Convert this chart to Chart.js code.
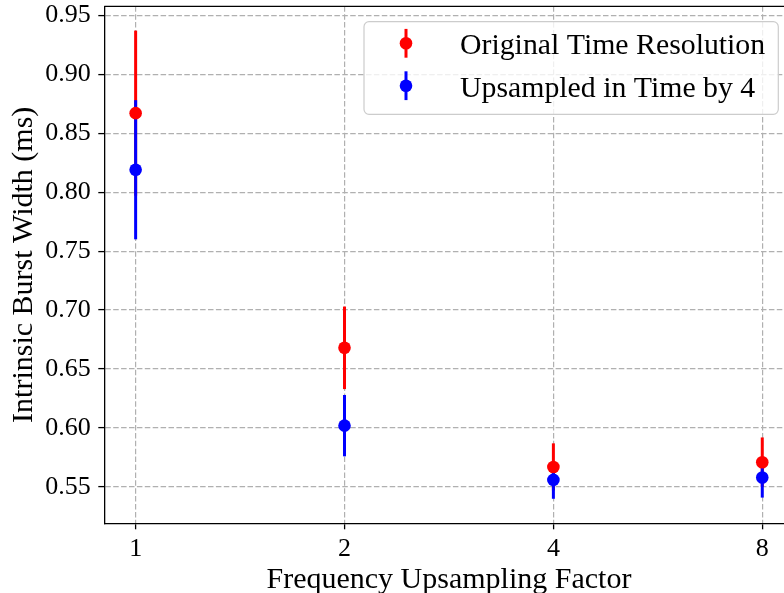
<!DOCTYPE html>
<html>
<head>
<meta charset="utf-8">
<script src="https://cdn.jsdelivr.net/npm/chart.js@4.4.1/dist/chart.umd.min.js"></script>
<style>
  html, body { margin: 0; padding: 0; background: #ffffff; overflow: hidden; }
  #wrap { width: 800px; height: 593px; }
</style>
</head>
<body>
<div id="wrap"><canvas id="c" width="800" height="593"></canvas></div>
<script>
// ---- data ----
const factors = [1, 2, 4, 8];
const factorPos = [0, 1, 2, 3]; // log2 positions of factors
const origWidth = [0.867, 0.668, 0.567, 0.571];
const origErr   = [0.070, 0.035, 0.020, 0.021];
const upWidth   = [0.819, 0.602, 0.556, 0.558];
const upErr     = [0.059, 0.026, 0.016, 0.017];
const yTicks = [0.55, 0.60, 0.65, 0.70, 0.75, 0.80, 0.85, 0.90, 0.95];
const seriesLabels = ['Original Time Resolution', 'Upsampled in Time by 4'];
const seriesColors = ['#ff0000', '#0000ff'];

const FONT = "'Liberation Serif', 'DejaVu Serif', serif";

const toPts = (vals) => vals.map((v, i) => ({ x: factorPos[i], y: v }));
const errs = [origErr, upErr];
const vals = [origWidth, upWidth];

const errorBarPlugin = {
  id: 'errorBars',
  beforeDatasetsDraw(chart) {
    const ctx = chart.ctx;
    const xs = chart.scales.x, ys = chart.scales.y;
    ctx.save();
    ctx.lineWidth = 3;
    ctx.lineCap = 'butt';
    ctx.setLineDash([]);
    for (let d = 0; d < 2; d++) {
      ctx.strokeStyle = seriesColors[d];
      for (let i = 0; i < factorPos.length; i++) {
        const x = xs.getPixelForValue(factorPos[i]);
        const y1 = ys.getPixelForValue(vals[d][i] - errs[d][i]);
        const y2 = ys.getPixelForValue(vals[d][i] + errs[d][i]);
        ctx.beginPath();
        ctx.moveTo(x, y1);
        ctx.lineTo(x, y2);
        ctx.stroke();
      }
    }
    ctx.restore();
  },
  afterDraw(chart) {
    const ctx = chart.ctx;
    const a = chart.chartArea;
    ctx.save();
    ctx.setLineDash([]);
    // top and right spines
    ctx.strokeStyle = '#000';
    ctx.lineWidth = 1.3;
    ctx.beginPath();
    ctx.moveTo(a.left, a.top);
    ctx.lineTo(a.right, a.top);
    ctx.lineTo(a.right, a.bottom);
    ctx.stroke();

    // legend
    const bx = 364, by = 21.7, bw = 414.3, bh = 92.6;
    ctx.beginPath();
    ctx.roundRect(bx, by, bw, bh, 5);
    ctx.fillStyle = 'rgba(255,255,255,0.8)';
    ctx.fill();
    ctx.strokeStyle = '#cccccc';
    ctx.lineWidth = 1.2;
    ctx.stroke();
    const rows = [43.3, 85.7];
    ctx.font = "29.8px " + FONT;
    ctx.textBaseline = 'alphabetic';
    ctx.textAlign = 'left';
    for (let d = 0; d < 2; d++) {
      const cy = rows[d];
      ctx.strokeStyle = seriesColors[d];
      ctx.lineWidth = 3;
      ctx.beginPath();
      ctx.moveTo(406, cy - 14.4);
      ctx.lineTo(406, cy + 14.4);
      ctx.stroke();
      ctx.fillStyle = seriesColors[d];
      ctx.beginPath();
      ctx.arc(406, cy, 6.3, 0, Math.PI * 2);
      ctx.fill();
      ctx.fillStyle = '#000';
      ctx.fillText(seriesLabels[d], 460, cy + 11);
    }
    ctx.restore();
  }
};

const gridOpts = {
  color: '#b0b0b0',
  lineWidth: 1.2,
  tickColor: '#000',
  tickBorderDash: [],
  tickLength: 6,
  tickWidth: 1.3
};
const borderOpts = { display: true, color: '#000', width: 1.3, dash: [5.5, 2.4] };

new Chart(document.getElementById('c'), {
  type: 'line',
  data: {
    datasets: [
      {
        label: seriesLabels[0],
        data: toPts(origWidth),
        showLine: false,
        pointRadius: 6.3,
        pointHoverRadius: 6.3,
        pointBorderWidth: 0,
        pointBackgroundColor: seriesColors[0],
        borderColor: seriesColors[0],
        order: 1
      },
      {
        label: seriesLabels[1],
        data: toPts(upWidth),
        showLine: false,
        pointRadius: 6.3,
        pointHoverRadius: 6.3,
        pointBorderWidth: 0,
        pointBackgroundColor: seriesColors[1],
        borderColor: seriesColors[1],
        order: 0
      }
    ]
  },
  options: {
    responsive: false,
    animation: false,
    events: [],
    layout: { padding: { left: 0, top: 6, right: 6.4, bottom: 0 } },
    plugins: { legend: { display: false }, tooltip: { enabled: false } },
    scales: {
      x: {
        type: 'linear',
        min: -0.15,
        max: 3.15,
        afterBuildTicks: (s) => { s.ticks = factorPos.map(v => ({ value: v })); },
        afterFit: (s) => { s.height = 69.7; s.paddingLeft = 0; s.paddingRight = 0; },
        ticks: {
          callback: (v) => String(factors[factorPos.indexOf(v)]),
          font: { family: FONT, size: 26 },
          color: '#000',
          padding: 4,
          maxRotation: 0
        },
        grid: gridOpts,
        border: borderOpts,
        title: {
          display: true,
          text: 'Frequency Upsampling Factor',
          font: { family: FONT, size: 30, lineHeight: 0.8 },
          color: '#000',
          padding: { top: 0, bottom: 1 }
        }
      },
      y: {
        type: 'linear',
        min: 0.5192,
        max: 0.9576,
        afterBuildTicks: (s) => { s.ticks = yTicks.map(v => ({ value: v })); },
        afterFit: (s) => { s.width = 104.3; s.paddingTop = 0; s.paddingBottom = 0; },
        ticks: {
          callback: (v) => Number(v).toFixed(2),
          font: { family: FONT, size: 26 },
          color: '#000',
          padding: 7.6
        },
        grid: gridOpts,
        border: borderOpts,
        title: {
          display: true,
          text: 'Intrinsic Burst Width (ms)',
          font: { family: FONT, size: 30, lineHeight: 0.8 },
          color: '#000',
          padding: { top: 11.7, bottom: 0 }
        }
      }
    }
  },
  plugins: [errorBarPlugin]
});
</script>
</body>
</html>
